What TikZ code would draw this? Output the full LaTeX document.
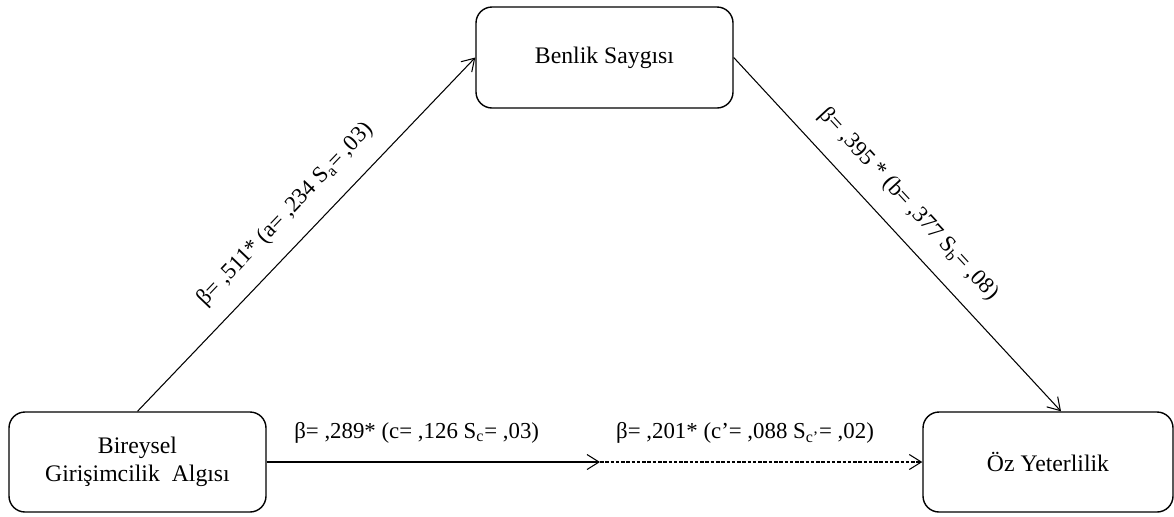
\documentclass[tikz,border=0pt]{standalone}
\usepackage{fontspec}
\setmainfont{Liberation Serif}
\usetikzlibrary{arrows.meta}

\begin{document}
\begin{tikzpicture}[
  >={Straight Barb[length=2.4mm, width=3mm]},
  every node/.style={font=\fontsize{13}{15.5}\selectfont},
  varbox/.style={rectangle, draw=black, line width=0.8pt, rounded corners=0.32cm, minimum width=5.14cm, minimum height=2cm, align=center, font=\fontsize{13.5}{16}\selectfont},
  effect/.style={->, line width=0.6pt},
  indirect/.style={->, line width=0.6pt, dash pattern=on 2pt off 1pt},
  coef/.style={sloped, above=0.24cm},
]
\useasboundingbox (0,0) rectangle (23.48,-10.32);

% ---- variables ----
\node[varbox] (bga) at (2.75, -9.24) {Bireysel\\Girişimcilik~~Algısı};
\node[varbox, minimum height=2.02cm] (bs) at (12.09, -1.15) {Benlik Saygısı};
\node[varbox, minimum width=5cm] (oz) at (20.96, -9.24) {Öz Yeterlilik};
\coordinate (mid) at (12.0, -9.24);

% ---- paths a, b ----
\draw[effect] (bga.north) -- node[coef, pos=0.5] {β= ,511* (a= ,234 S\textsubscript{a}= ,03)} (bs.west);
\draw[effect] (bs.east) -- node[coef, pos=0.47] {β= ,395 * (b= ,377 S\textsubscript{b}= ,08)} ([xshift=0.26cm]oz.north);

% ---- paths c, c' ----
\draw[effect] (bga.east) -- node[coef, pos=0.45] {β= ,289* (c= ,126 S\textsubscript{c}= ,03)} (mid);
\draw[indirect] (mid) -- node[coef, pos=0.45] {β= ,201* (c’= ,088 S\textsubscript{c’}= ,02)} (oz.west);

\end{tikzpicture}
\end{document}
